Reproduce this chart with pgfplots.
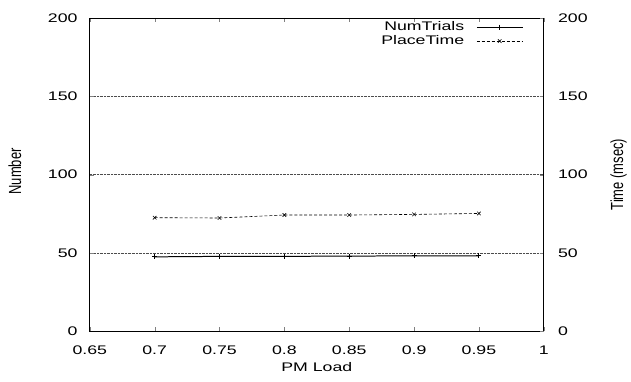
\documentclass[border=0pt]{standalone}
\usepackage{graphicx}
\usepackage{pgfplots}
\pgfplotsset{compat=1.18}
\usepackage{fontspec}
\setmainfont{Liberation Sans}[FakeStretch=1.42]
\newfontfamily\rotfont{Liberation Sans}
\newcommand{\rotlabel}[1]{\scalebox{1}[1.35]{\rotfont\fontsize{13}{15}\selectfont #1}}
\begin{document}
\fontsize{12.5}{14}\selectfont
\begin{tikzpicture}
\begin{axis}[
  name=ax,
  scale only axis, width=455pt, height=314pt,
  xmin=0.65, xmax=1, ymin=0, ymax=200,
  xtick={0.65,0.7,...,1.0},
  xticklabels={0.65,0.7,0.75,0.8,0.85,0.9,0.95,1},
  ytick={0,50,100,150,200},
  ytick pos=left, xtick pos=both,
  tick align=inside, major tick length=4pt,
  ymajorgrids, major grid style={densely dotted, black!70, line width=0.4pt},
  axis line style={line width=0.8pt},
  /pgf/number format/assume math mode=true,
  yticklabel style={xshift=-8pt},
  xticklabel style={yshift=-10pt},
  xlabel={PM Load}, ylabel={\rotlabel{Number}},
  xlabel style={at={(axis description cs:0.5,-0.115)}, anchor=center},
  ylabel style={at={(axis description cs:-0.165,0.51)}, anchor=center},
  legend style={draw=none, fill=none, inner sep=0pt, at={(0.955,0.995)}, anchor=north east,
    font=\fontsize{12.5}{13}\selectfont, row sep=-1pt,
    /tikz/every odd column/.append style={column sep=10pt}},
  legend plot pos=right,
  legend cell align=right,
  legend image code/.code={\draw[mark repeat=2,mark phase=2,#1] plot coordinates {(0pt,0pt)(23pt,0pt)(46pt,0pt)};},
]
\addplot[black, line width=1pt, mark=+, mark size=2.5pt] coordinates {
(0.7,47.5) (0.75,47.8) (0.8,47.8) (0.85,48.0) (0.9,48.1) (0.95,48.2)};
\addlegendentry{NumTrials}
\addplot[black, dash pattern=on 3pt off 2pt, line width=0.6pt, mark=x, mark size=2.5pt, mark options={solid}] coordinates {
(0.7,72.5) (0.75,72.3) (0.8,74.2) (0.85,74.2) (0.9,74.6) (0.95,75.2)};
\addlegendentry{PlaceTime}
\end{axis}
\begin{axis}[
  scale only axis, width=455pt, height=314pt,
  xmin=0.65, xmax=1, ymin=0, ymax=200,
  hide x axis,
  axis y line*=right,
  ytick={0,50,100,150,200},
  tick align=inside, major tick length=4pt,
  axis line style={line width=0.8pt},
  /pgf/number format/assume math mode=true,
  yticklabel style={xshift=10pt},
  ylabel={\rotlabel{Time (msec)}},
  ylabel style={at={(axis description cs:1.165,0.5)}, anchor=center},
]
\end{axis}
\path[use as bounding box] ([xshift=-90pt,yshift=-50pt]ax.south west) rectangle ([xshift=86pt,yshift=18pt]ax.north east);
\end{tikzpicture}
\end{document}
